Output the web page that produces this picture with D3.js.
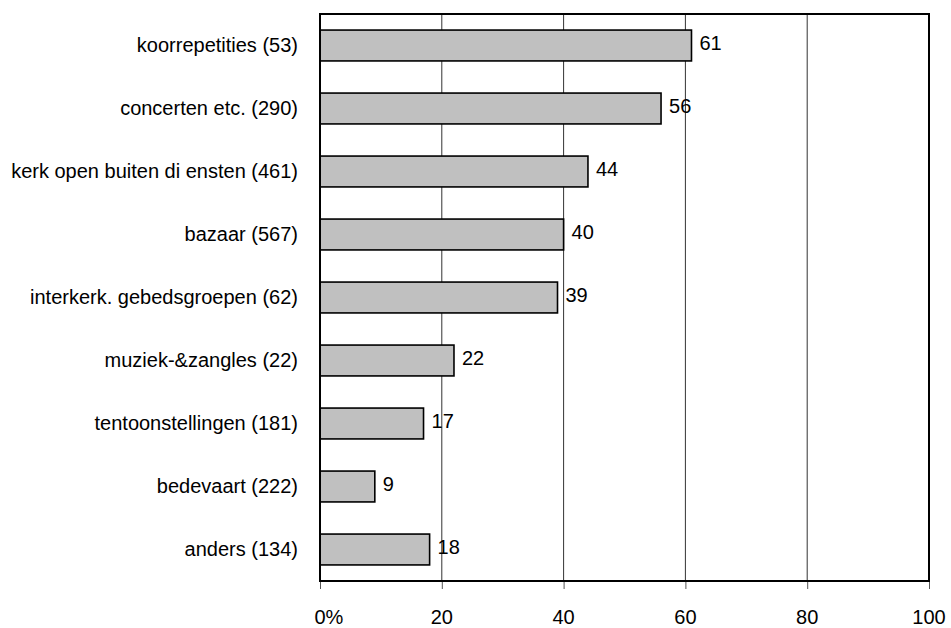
<!DOCTYPE html>
<html>
<head>
<meta charset="utf-8">
<script src="https://cdn.jsdelivr.net/npm/d3@7"></script>
<style>
  body { margin: 0; background: #fff; }
  svg text { font-family: "Liberation Sans", Arial, sans-serif; fill: #000; }
</style>
</head>
<body>
<svg id="chart" width="951" height="628"></svg>
<script>
// activiteiten en percentages
var categories = [
    "koorrepetities (53)",
    "concerten etc. (290)",
    "kerk open buiten di ensten (461)",
    "bazaar (567)",
    "interkerk. gebedsgroepen (62)",
    "muziek-&zangles (22)",
    "tentoonstellingen (181)",
    "bedevaart (222)",
    "anders (134)"
];
var values = [61, 56, 44, 40, 39, 22, 17, 9, 18];
var ticks = [0, 20, 40, 60, 80, 100];

var plotLeft = 320, plotRight = 929, plotTop = 14, plotBottom = 581;

var svg = d3.select("#chart");

var x = d3.scaleLinear().domain([0, 100]).range([plotLeft, plotRight]);
var y = d3.scaleBand().domain(categories).range([plotTop, plotBottom])
    .paddingInner(0.51).paddingOuter(0.255);

// gridlines
svg.append("g")
    .selectAll("line")
    .data(ticks.slice(1, -1))
    .enter().append("line")
    .attr("x1", d => x(d)).attr("x2", d => x(d))
    .attr("y1", plotTop).attr("y2", plotBottom)
    .attr("stroke", "#333")
    .attr("stroke-width", 1);

// x axis ticks below plot
var xAxis = d3.axisBottom(x)
    .tickValues(ticks)
    .tickSize(8)
    .tickPadding(0)
    .tickFormat("");
var ax = svg.append("g")
    .attr("transform", "translate(0," + plotBottom + ")")
    .call(xAxis);
ax.select(".domain").remove();
ax.selectAll(".tick line").attr("stroke", "#555").attr("stroke-width", 1);

// tick labels, number centred on the tick, "%" hanging after the zero
svg.append("g")
    .selectAll("text")
    .data(ticks)
    .enter().append("text")
    .attr("x", d => d === 0 ? x(d) - 5.6 : x(d))
    .attr("y", 624)
    .attr("text-anchor", d => d === 0 ? "start" : "middle")
    .style("font-size", "20px")
    .text(d => d === 0 ? "0%" : d);

// bars
svg.append("g")
    .selectAll("rect")
    .data(values)
    .enter().append("rect")
    .attr("x", x(0))
    .attr("y", (d, i) => y(categories[i]))
    .attr("width", d => x(d) - x(0))
    .attr("height", y.bandwidth())
    .attr("fill", "#c0c0c0")
    .attr("stroke", "#000")
    .attr("stroke-width", 1.6);

// value labels
svg.append("g")
    .selectAll("text")
    .data(values)
    .enter().append("text")
    .attr("x", d => x(d) + 8)
    .attr("y", (d, i) => y(categories[i]) + y.bandwidth() / 2 + 4.5)
    .style("font-size", "20px")
    .text(d => d);

// category labels
svg.append("g")
    .selectAll("text")
    .data(categories)
    .enter().append("text")
    .attr("x", 298)
    .attr("y", d => y(d) + y.bandwidth() / 2 + 6.5)
    .attr("text-anchor", "end")
    .style("font-size", "20px")
    .text(d => d);

// plot frame
svg.append("rect")
    .attr("x", plotLeft).attr("y", plotTop)
    .attr("width", plotRight - plotLeft).attr("height", plotBottom - plotTop)
    .attr("fill", "none")
    .attr("stroke", "#000")
    .attr("stroke-width", 2);
</script>
</body>
</html>
